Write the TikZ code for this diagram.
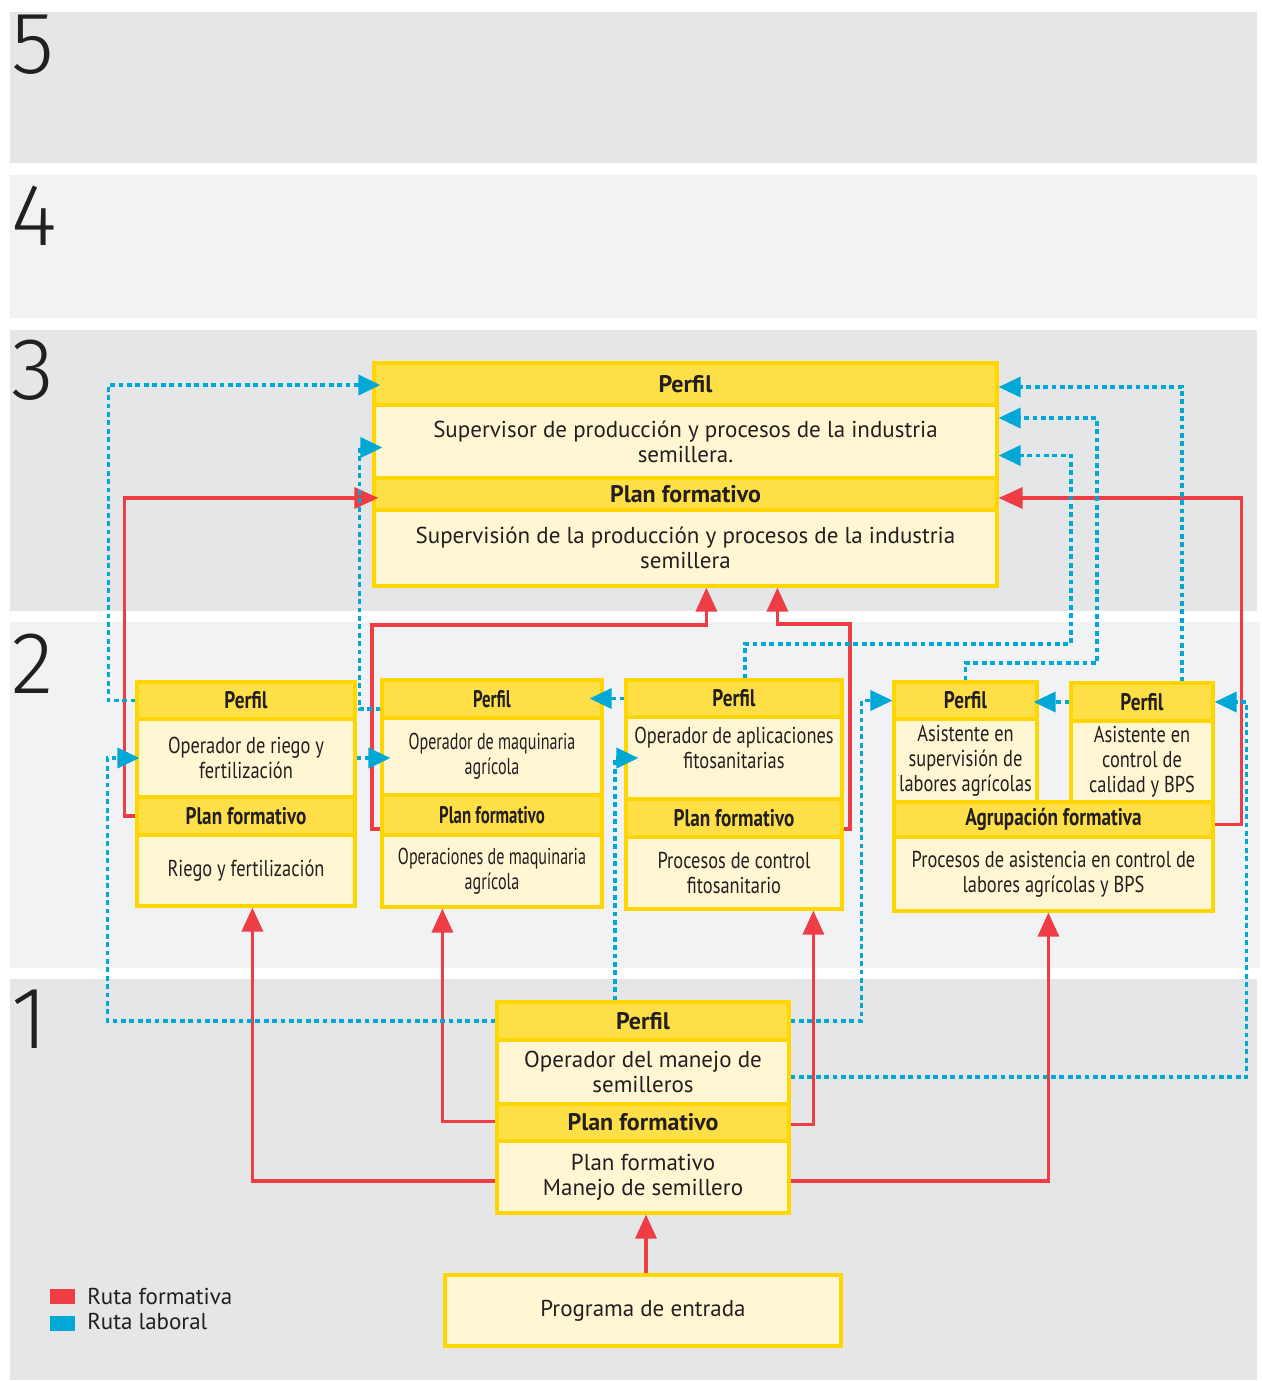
\documentclass[tikz,border=0pt]{standalone}
\usepackage{fontspec}
\setmainfont{PT Sans}
\newfontfamily\condf[FakeStretch=0.8]{PT Sans}
\newfontfamily\condg[FakeStretch=0.7]{PT Sans}
\newfontfamily\thinf{Fira Sans Light}
\usetikzlibrary{arrows.meta,calc}
\definecolor{bandA}{HTML}{E5E6E8}
\definecolor{bandB}{HTML}{F1F2F4}
\definecolor{hdrY}{HTML}{FFDF48}
\definecolor{bodyY}{HTML}{FFF6D4}
\definecolor{edgeY}{HTML}{FFD600}
\definecolor{rutaR}{HTML}{EE3D45}
\definecolor{rutaB}{HTML}{00A8D6}
\definecolor{txt}{HTML}{231F20}
\newcommand\bx[7]{\node[#2, minimum width={(#5-#3)*0.5pt}, minimum height={(#6-#4)*0.5pt}] (#1) at ({(#3+#5)/2},{(#4+#6)/2}) {#7};}
\tikzset{
  base/.style={draw=edgeY, line width=1.6pt, inner sep=0pt, align=center, text=txt},
  hdr/.style={base, fill=hdrY, font=\bfseries\fontsize{12}{13}\selectfont},
  bdy/.style={base, fill=bodyY, font=\fontsize{11.5}{12.5}\selectfont},
  chdr/.style={base, fill=hdrY, font=\condf\bfseries\fontsize{12}{13}\selectfont},
  cbdy/.style={base, fill=bodyY, font=\condf\fontsize{11.5}{12.5}\selectfont},
  ghdr/.style={base, fill=hdrY, font=\condg\bfseries\fontsize{12}{13}\selectfont},
  gbdy/.style={base, fill=bodyY, font=\condg\fontsize{11.5}{12.5}\selectfont},
  rline/.style={draw=rutaR, line width=1.7pt, -{Triangle[length=12pt,width=10.5pt]}},
  bline/.style={draw=rutaB, line width=1.8pt, dash pattern=on 2.4pt off 1.8pt, -{Triangle[length=11pt,width=10pt]}},
  into/.style={shorten >=-#1},
  digit/.style={anchor=north west, inner sep=0pt, text=txt, font=\thinf\fontsize{44}{44}\selectfont},
  legtxt/.style={anchor=west, inner sep=0pt, text=txt, font=\fontsize{11.5}{12.5}\selectfont},
}
\begin{document}
\begin{tikzpicture}[x=0.5pt,y=-0.5pt]
\useasboundingbox (0,0) rectangle (1262,1381);
\fill[white] (0,0) rectangle (1262,1381);
% bands
\fill[bandA] (10,12) rectangle (1257,163);
\fill[bandB] (10,175) rectangle (1257,318);
\fill[bandA] (10,330) rectangle (1257,611);
\fill[bandB] (10,622) rectangle (1260,968);
\fill[bandA] (10,979) rectangle (1257,1380);
\node[digit] (n5) at (11,15) {5};
\node[digit] (n4) at (11,186) {4};
\node[digit] (n3) at (11,340) {3};
\node[digit] (n2) at (11,634) {2};
\node[digit] (n1) at (11,990) {1};
% level 3
\bx{S1}{hdr}{374}{363}{997}{405}{Perfil}
\bx{S2}{bdy}{374}{405}{997}{478}{Supervisor de producción y procesos de la industria\\semillera.}
\bx{S3}{hdr}{374}{478}{997}{510}{Plan formativo}
\bx{S4}{bdy}{374}{510}{997}{586}{Supervisión de la producción y procesos de la industria\\semillera}
% level 2
\bx{A1}{chdr}{137}{682}{355}{719}{Perfil}
\bx{A2}{cbdy}{137}{719}{355}{797}{Operador de riego y\\fertilización}
\bx{A3}{chdr}{137}{797}{355}{835}{Plan formativo}
\bx{A4}{cbdy}{137}{835}{355}{906}{Riego y fertilización}
\bx{B1}{ghdr}{382}{680}{602}{718}{Perfil}
\bx{B2}{gbdy}{382}{718}{602}{795}{Operador de maquinaria\\agrícola}
\bx{B3}{ghdr}{382}{795}{602}{835}{Plan formativo}
\bx{B4}{gbdy}{382}{835}{602}{907}{Operaciones de maquinaria\\agrícola}
\bx{C1}{chdr}{626}{680}{842}{717}{Perfil}
\bx{C2}{cbdy}{626}{717}{842}{799}{}
\node[font=\condf\fontsize{11.5}{12.5}\selectfont, text=txt, align=center, inner sep=0pt] (C2t) at (734,748) {Operador de aplicaciones\\fitosanitarias};
\bx{C3}{chdr}{626}{799}{842}{837}{Plan formativo}
\bx{C4}{cbdy}{626}{837}{842}{909}{Procesos de control\\fitosanitario}
\bx{D1}{chdr}{894}{682}{1037}{719}{Perfil}
\bx{D2}{cbdy}{894}{719}{1037}{802}{Asistente en\\supervisión de\\labores agrícolas}
\bx{E1}{chdr}{1071}{683}{1213}{721}{Perfil}
\bx{E2}{cbdy}{1071}{721}{1213}{802}{Asistente en\\control de\\calidad y BPS}
\bx{G1}{chdr}{894}{802}{1213}{837}{Agrupación formativa}
\bx{G2}{cbdy}{894}{837}{1213}{911}{Procesos de asistencia en control de\\labores agrícolas y BPS}
% level 1
\bx{P11}{hdr}{497}{1002}{789}{1040}{Perfil}
\bx{P12}{bdy}{497}{1040}{789}{1104}{Operador del manejo de\\semilleros}
\bx{P13}{hdr}{497}{1104}{789}{1141}{Plan formativo}
\bx{P14}{bdy}{497}{1141}{789}{1213}{Plan formativo\\Manejo de semillero}
\bx{PE}{bdy}{445}{1275}{841}{1346}{Programa de entrada}
% legend
\fill[rutaR] (50,1289) rectangle (75,1304);
\fill[rutaB] (50,1316) rectangle (75,1331);
\node[legtxt] (lgR) at (87,1296) {Ruta formativa};
\node[legtxt] (lgB) at (87,1321) {Ruta laboral};
% ruta formativa (red)
\draw[rline, into=3pt] (A3.west) -- ++(-11,0) |- ($(S3.west)+(0,4)$);
\draw[rline] ($(B3.west)+(0,14)$) -| (372,625) -| ($(S4.south west)+(334,0)$);
\draw[rline] ($(C3.east)+(0,11)$) -| (850,624) -| ($(S4.south west)+(405,0)$);
\draw[rline] ($(G1.east)+(0,5)$) -- ++(27,0) |- ($(S3.east)+(0,4)$);
\draw[rline] ($(P13.west)+(0,-1)$) -| ($(B4.south west)+(62,0)$);
\draw[rline] ($(P13.east)+(0,2)$) -| ($(C4.south west)+(189,0)$);
\draw[rline] ($(P14.west)+(0,4)$) -| ($(A4.south west)+(117,0)$);
\draw[rline] ($(P14.east)+(0,4)$) -| ($(G2.south west)+(156,0)$);
\draw[rline] ($(PE.north)+(3,0)$) -- ($(P14.south)+(3,0)$);
% ruta laboral (blue)
\draw[bline, into=4pt] (A1.west) -- ++(-27,0) |- ($(S1.west)+(0,1)$);
\draw[bline, into=5pt] ($(B1.west)+(0,10)$) -- ++(-21,0) |- ($(S2.west)+(0,6)$);
\draw[bline] ($(C1.north)+(11,0)$) |- (1071,644) |- ($(S2.east)+(0,14)$);
\draw[bline] (D1.north) |- (1097,663) |- ($(S2.east)+(0,-23.5)$);
\draw[bline] ($(E1.north)+(40,0)$) |- ($(S1.east)+(0,3)$);
\draw[bline, into=2.5pt] (E1.west) -- (E1.west -| D1.east);
\draw[bline, into=5pt] (A2.east) -- (A2.east -| B2.west);
\draw[bline, into=7pt] (C1.west) -- (C1.west -| B1.east);
\draw[bline, into=2pt] (P11.west) -- ++(-388,0) |- (A2.west);
\draw[bline, into=7pt] ($(P11.north)+(-28,0)$) |- (C2.west);
\draw[bline] (P11.east) -- ++(71,0) |- (D1.west);
\draw[bline] ($(P12.east)+(0,5)$) -- ++(456,0) |- (E1.east);
\end{tikzpicture}
\end{document}
